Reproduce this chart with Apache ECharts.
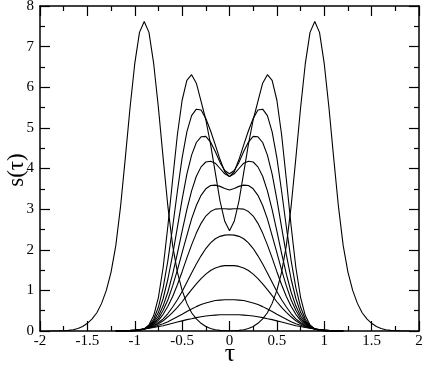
<!DOCTYPE html>
<html>
<head>
<meta charset="utf-8">
<script src="https://cdn.jsdelivr.net/npm/echarts@6/dist/echarts.min.js"></script>
<style>
  html, body { margin: 0; padding: 0; background: #fff; }
  #chart { width: 425px; height: 367px; }
</style>
</head>
<body>
<div id="chart"></div>
<script>
// sample positions (tau) for the inner family and for the wide two-peak curve
const tauInner = [-1.2, -1.15, -1.1, -1.05, -1, -0.95, -0.9, -0.85, -0.8, -0.75, -0.7, -0.65, -0.6, -0.55, -0.5, -0.45, -0.4, -0.35, -0.3, -0.25, -0.2, -0.15, -0.1, -0.05,
  0, 0.05, 0.1, 0.15, 0.2, 0.25, 0.3, 0.35, 0.4, 0.45, 0.5, 0.55, 0.6, 0.65, 0.7, 0.75, 0.8, 0.85, 0.9, 0.95, 1, 1.05, 1.1, 1.15, 1.2];
const tauOuter = [-1.9, -1.85, -1.8, -1.75, -1.7, -1.65, -1.6, -1.55, -1.5, -1.45, -1.4, -1.35, -1.3, -1.25, -1.2, -1.15, -1.1, -1.05, -1, -0.95, -0.9, -0.85, -0.8, -0.75, -0.7, -0.65, -0.6, -0.55, -0.5, -0.45, -0.4, -0.35, -0.3, -0.25, -0.2, -0.15, -0.1, -0.05,
  0, 0.05, 0.1, 0.15, 0.2, 0.25, 0.3, 0.35, 0.4, 0.45, 0.5, 0.55, 0.6, 0.65, 0.7, 0.75, 0.8, 0.85, 0.9, 0.95, 1, 1.05, 1.1, 1.15, 1.2, 1.25, 1.3, 1.35, 1.4, 1.45, 1.5, 1.55, 1.6, 1.65, 1.7, 1.75, 1.8, 1.85, 1.9];

// s(tau), one array per curve (on tauInner)
const s1 = [0.006, 0.009, 0.013, 0.019, 0.027, 0.037, 0.05, 0.066, 0.085, 0.11, 0.13, 0.16, 0.19, 0.22, 0.25, 0.28, 0.30, 0.33, 0.35, 0.37, 0.38, 0.39, 0.40, 0.40,
  0.40, 0.40, 0.40, 0.39, 0.38, 0.37, 0.35, 0.33, 0.30, 0.28, 0.25, 0.22, 0.19, 0.16, 0.13, 0.11, 0.085, 0.066, 0.05, 0.037, 0.027, 0.019, 0.013, 0.009, 0.006];
const s2 = [0.003, 0.005, 0.008, 0.014, 0.022, 0.034, 0.05, 0.072, 0.10, 0.14, 0.18, 0.23, 0.29, 0.35, 0.41, 0.48, 0.54, 0.60, 0.65, 0.69, 0.72, 0.75, 0.76, 0.77,
  0.77, 0.77, 0.76, 0.75, 0.72, 0.69, 0.65, 0.60, 0.54, 0.48, 0.41, 0.35, 0.29, 0.23, 0.18, 0.14, 0.10, 0.072, 0.05, 0.034, 0.022, 0.014, 0.008, 0.005, 0.003];
const s3 = [0.002, 0.003, 0.006, 0.01, 0.018, 0.03, 0.05, 0.079, 0.12, 0.18, 0.25, 0.35, 0.46, 0.58, 0.72, 0.87, 1.02, 1.16, 1.29, 1.40, 1.49, 1.55, 1.59, 1.61,
  1.61, 1.61, 1.59, 1.55, 1.49, 1.40, 1.29, 1.16, 1.02, 0.87, 0.72, 0.58, 0.46, 0.35, 0.25, 0.18, 0.12, 0.079, 0.05, 0.03, 0.018, 0.01, 0.006, 0.003, 0.002];
const s4 = [0.001, 0.002, 0.005, 0.009, 0.016, 0.029, 0.05, 0.084, 0.13, 0.21, 0.30, 0.43, 0.59, 0.77, 0.97, 1.20, 1.43, 1.65, 1.85, 2.03, 2.17, 2.27, 2.33, 2.36,
  2.37, 2.36, 2.33, 2.27, 2.17, 2.03, 1.85, 1.65, 1.43, 1.20, 0.97, 0.77, 0.59, 0.43, 0.30, 0.21, 0.13, 0.084, 0.05, 0.029, 0.016, 0.009, 0.005, 0.002, 0.001];
const s5 = [0, 0.001, 0.003, 0.006, 0.013, 0.026, 0.05, 0.092, 0.16, 0.26, 0.41, 0.61, 0.85, 1.14, 1.46, 1.80, 2.12, 2.41, 2.65, 2.83, 2.94, 3.00, 3.01, 3.01,
  3.00, 3.01, 3.01, 3.00, 2.94, 2.83, 2.65, 2.41, 2.12, 1.80, 1.46, 1.14, 0.85, 0.61, 0.41, 0.26, 0.16, 0.092, 0.05, 0.026, 0.013, 0.006, 0.003, 0.001, 0];
const s6 = [0, 0.001, 0.002, 0.004, 0.01, 0.023, 0.05, 0.099, 0.18, 0.31, 0.51, 0.77, 1.11, 1.50, 1.93, 2.35, 2.76, 3.09, 3.34, 3.50, 3.58, 3.59, 3.56, 3.51,
  3.47, 3.51, 3.56, 3.59, 3.58, 3.50, 3.34, 3.09, 2.76, 2.35, 1.93, 1.50, 1.11, 0.77, 0.51, 0.31, 0.18, 0.099, 0.05, 0.023, 0.01, 0.004, 0.002, 0.001, 0];
const s7 = [0, 0, 0.001, 0.003, 0.009, 0.022, 0.05, 0.11, 0.21, 0.37, 0.62, 0.96, 1.40, 1.91, 2.46, 2.99, 3.45, 3.81, 4.04, 4.16, 4.18, 4.13, 4.00, 3.87,
  3.80, 3.87, 4.00, 4.13, 4.18, 4.16, 4.04, 3.81, 3.45, 2.99, 2.46, 1.91, 1.40, 0.96, 0.62, 0.37, 0.21, 0.11, 0.05, 0.022, 0.009, 0.003, 0.001, 0, 0];
const s8 = [0, 0, 0.001, 0.002, 0.007, 0.02, 0.05, 0.12, 0.24, 0.46, 0.80, 1.28, 1.88, 2.55, 3.24, 3.86, 4.33, 4.64, 4.78, 4.79, 4.65, 4.42, 4.15, 3.95,
  3.87, 3.95, 4.15, 4.42, 4.65, 4.79, 4.78, 4.64, 4.33, 3.86, 3.24, 2.55, 1.88, 1.28, 0.80, 0.46, 0.24, 0.12, 0.05, 0.02, 0.007, 0.002, 0.001, 0, 0];
const s9 = [0, 0, 0, 0.001, 0.005, 0.017, 0.05, 0.13, 0.29, 0.59, 1.07, 1.74, 2.56, 3.44, 4.26, 4.90, 5.30, 5.46, 5.44, 5.23, 4.93, 4.58, 4.22, 3.92,
  3.80, 3.92, 4.22, 4.58, 4.93, 5.23, 5.44, 5.46, 5.30, 4.90, 4.26, 3.44, 2.56, 1.74, 1.07, 0.59, 0.29, 0.13, 0.05, 0.017, 0.005, 0.001, 0, 0, 0];
const s10 = [0, 0, 0, 0.001, 0.003, 0.014, 0.05, 0.15, 0.38, 0.83, 1.57, 2.59, 3.73, 4.83, 5.68, 6.17, 6.31, 6.10, 5.65, 5.20, 4.60, 3.90, 3.20, 2.70,
  2.47, 2.70, 3.20, 3.90, 4.60, 5.20, 5.65, 6.10, 6.31, 6.17, 5.68, 4.83, 3.73, 2.59, 1.57, 0.83, 0.38, 0.15, 0.05, 0.014, 0.003, 0.001, 0, 0, 0];
// the wide curve with peaks near tau = +-0.9 (on tauOuter)
const s11 = [0, 0.001, 0.003, 0.007, 0.015, 0.03, 0.06, 0.11, 0.19, 0.3, 0.45, 0.68, 1.0, 1.45, 2.1, 3.06, 4.25, 5.49, 6.58, 7.35, 7.62, 7.35, 6.58, 5.49, 4.25, 3.06, 2.1, 1.45, 1.0, 0.68, 0.45, 0.3, 0.19, 0.11, 0.06, 0.03, 0.015, 0.008,
  0.006, 0.008, 0.015, 0.03, 0.06, 0.11, 0.19, 0.3, 0.45, 0.68, 1.0, 1.45, 2.1, 3.06, 4.25, 5.49, 6.58, 7.35, 7.62, 7.35, 6.58, 5.49, 4.25, 3.06, 2.1, 1.45, 1.0, 0.68, 0.45, 0.3, 0.19, 0.11, 0.06, 0.03, 0.015, 0.007, 0.003, 0.001, 0];

const innerCurves = [s1, s2, s3, s4, s5, s6, s7, s8, s9, s10];
const xTitle = 'τ';
const yTitle = 's(τ)';

const pairs = (xs, ys) => xs.map((x, i) => [x, ys[i]]);

const chart = echarts.init(document.getElementById('chart'), null, { renderer: 'canvas' });

const serif = 'Liberation Serif';
const frame = { show: true, onZero: false, lineStyle: { color: '#000', width: 1.5 } };
const ticks = { show: true, inside: true, length: 10, lineStyle: { color: '#000', width: 1.2 } };
const minor = { show: true, splitNumber: 2, length: 5, lineStyle: { color: '#000', width: 1.2 } };

const series = innerCurves.map(ys => ({
  type: 'line',
  data: pairs(tauInner, ys),
  showSymbol: false,
  silent: true,
  lineStyle: { color: '#000', width: 1.1 }
}));
series.push({
  type: 'line',
  data: pairs(tauOuter, s11),
  showSymbol: false,
  silent: true,
  lineStyle: { color: '#000', width: 1.1 }
});

chart.setOption({
  animation: false,
  backgroundColor: '#fff',
  grid: { left: 40, right: 6, top: 6, bottom: 36, containLabel: false, outerBoundsMode: 'none' },
  xAxis: [
    {
      type: 'value', min: -2, max: 2, interval: 0.5, position: 'bottom',
      axisLine: frame, axisTick: ticks, minorTick: minor,
      splitLine: { show: false },
      axisLabel: { fontFamily: serif, fontSize: 15, color: '#000', margin: 3 }
    },
    {
      type: 'value', min: -2, max: 2, interval: 0.5, position: 'top',
      axisLine: frame, axisTick: ticks, minorTick: minor,
      splitLine: { show: false }, axisLabel: { show: false }
    }
  ],
  yAxis: [
    {
      type: 'value', min: 0, max: 8, interval: 1, position: 'left',
      axisLine: frame, axisTick: ticks, minorTick: minor,
      splitLine: { show: false },
      axisLabel: { fontFamily: serif, fontSize: 15, color: '#000', margin: 6 }
    },
    {
      type: 'value', min: 0, max: 8, interval: 1, position: 'right',
      axisLine: frame, axisTick: ticks, minorTick: minor,
      splitLine: { show: false }, axisLabel: { show: false }
    }
  ],
  // axis titles
  graphic: [
    {
      type: 'text', x: 230, y: 354,
      style: { text: xTitle, font: '26px "Liberation Serif"', fill: '#000', align: 'center', verticalAlign: 'middle' }
    },
    {
      type: 'text', x: 17, y: 170, rotation: Math.PI / 2,
      style: { text: yTitle, font: '23px "Liberation Serif"', fill: '#000', align: 'center', verticalAlign: 'middle' }
    }
  ],
  series: series
});
</script>
</body>
</html>
